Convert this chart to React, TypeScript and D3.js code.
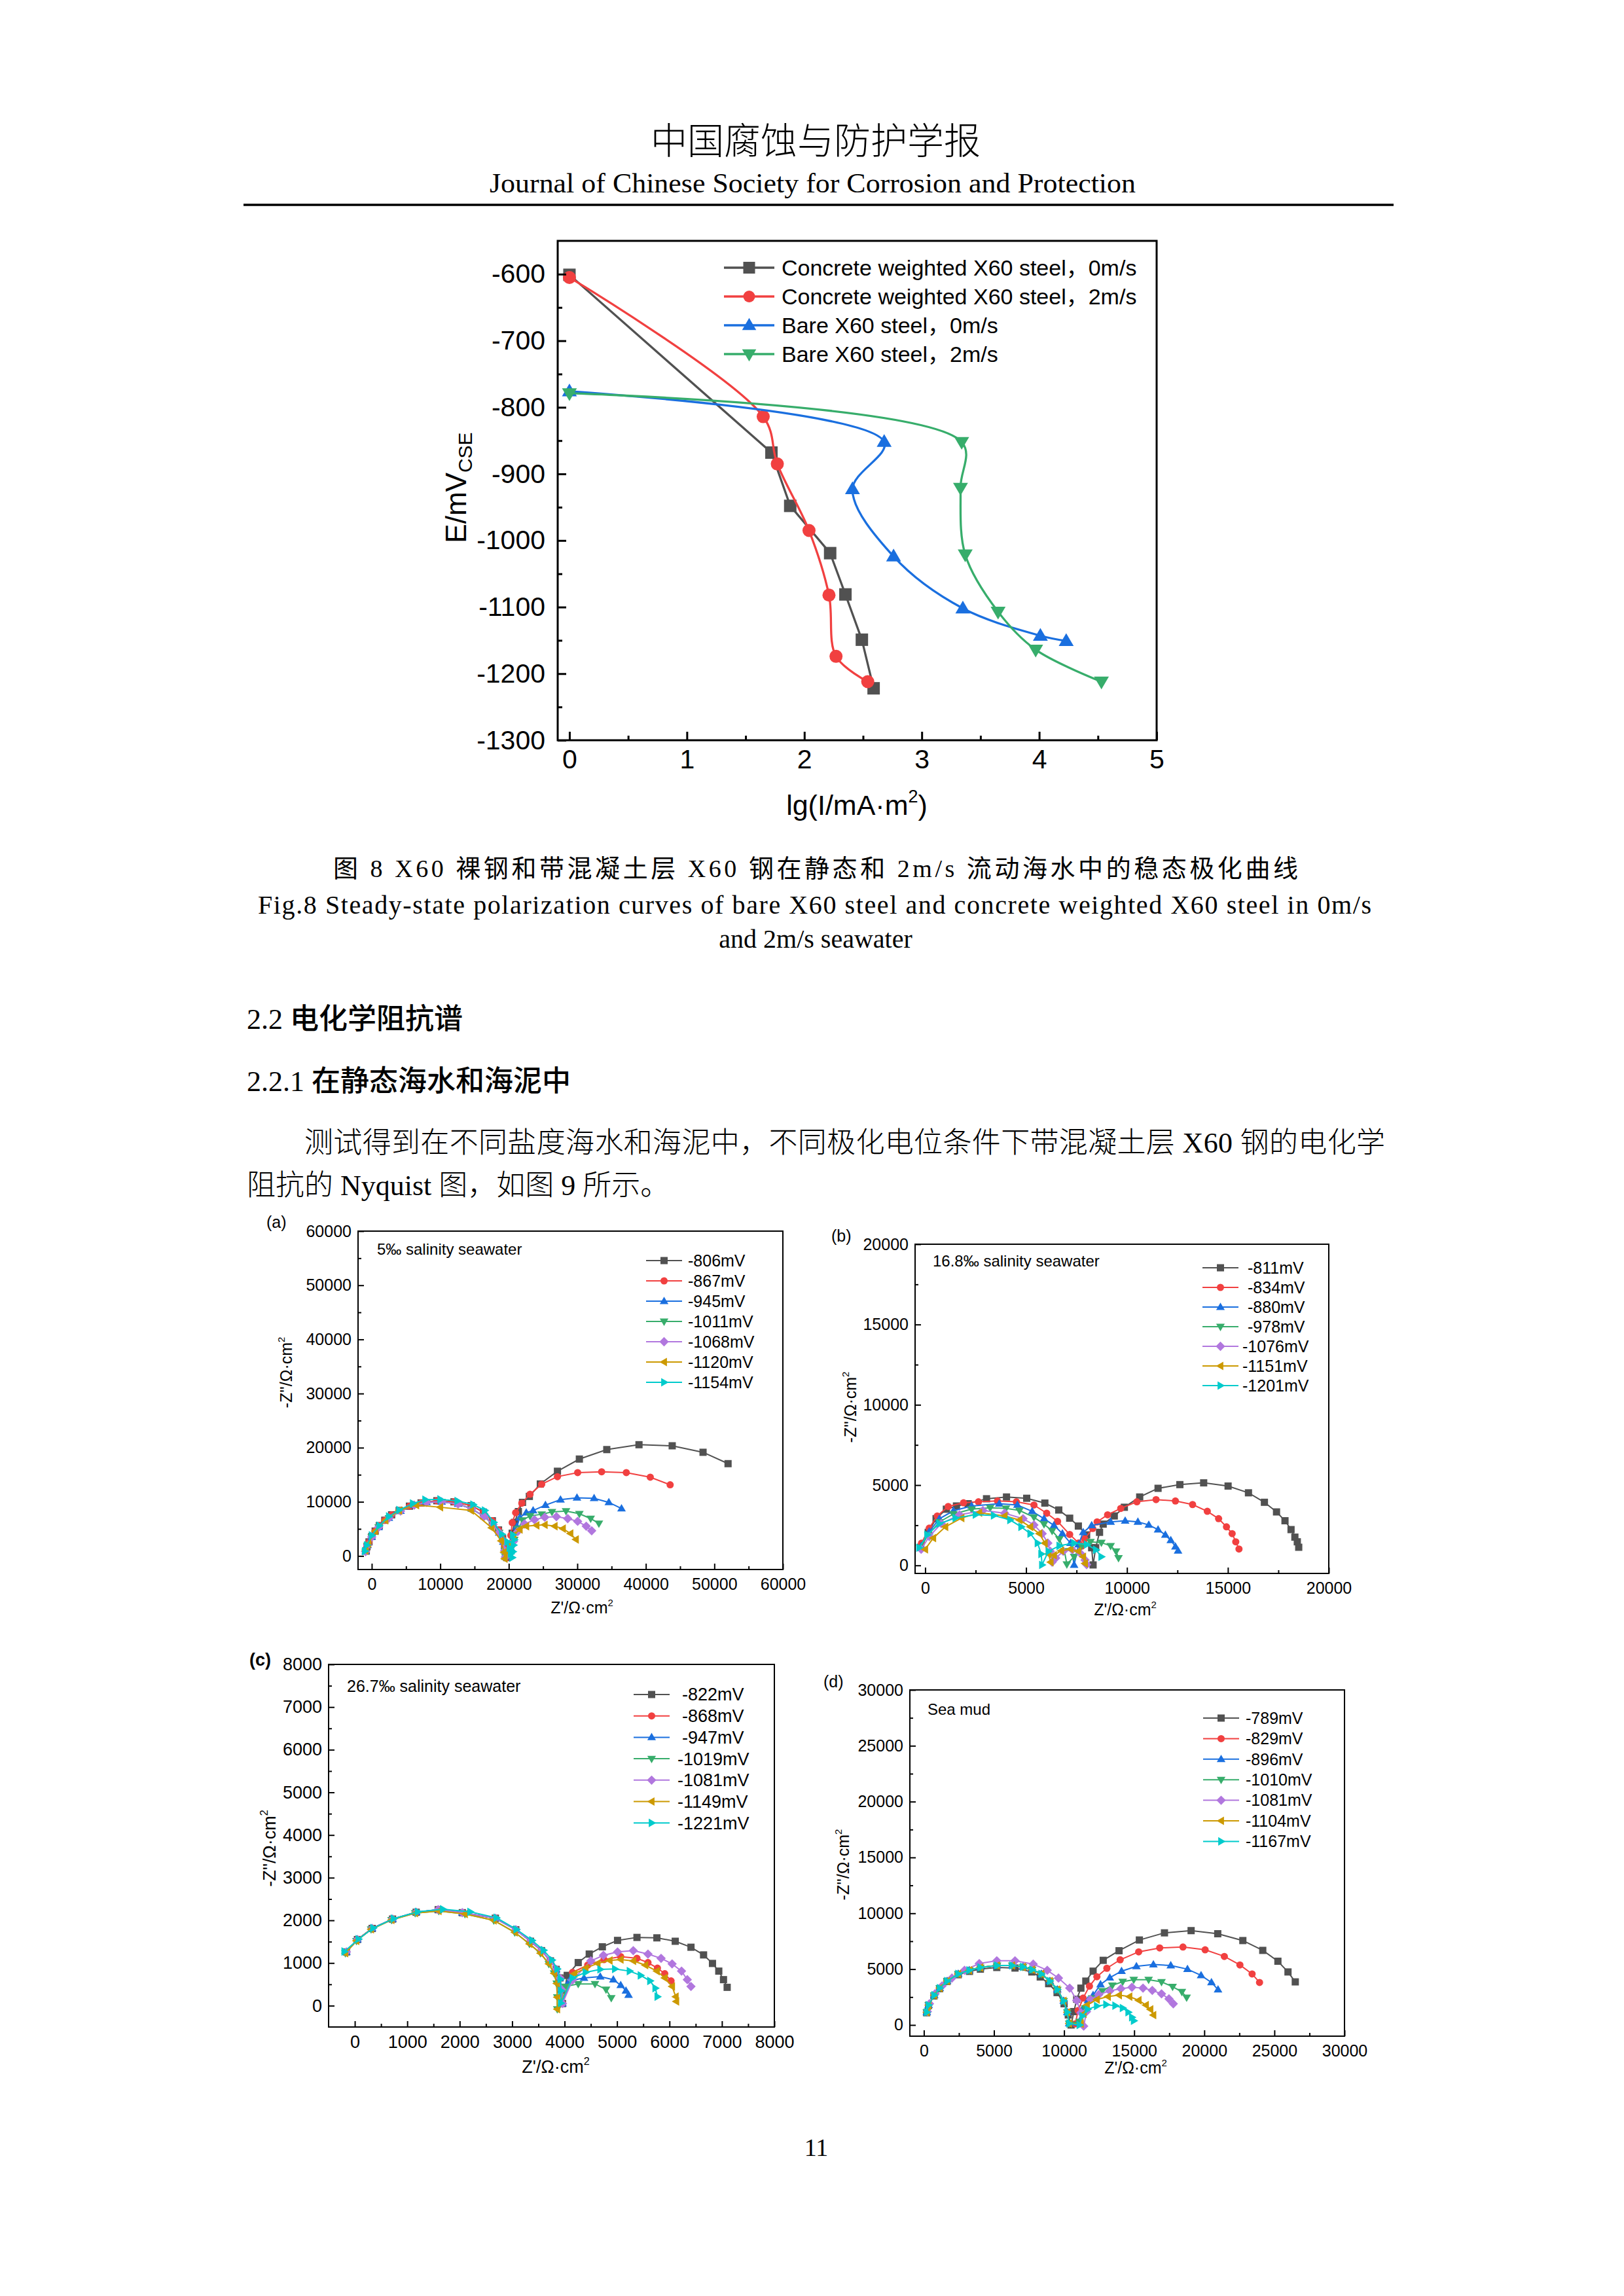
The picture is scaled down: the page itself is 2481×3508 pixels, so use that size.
import React, { useEffect, useRef } from "react";
import * as d3 from "d3";

type Pt = [number, number];

const SANS = "'Liberation Sans', Arial, 'Noto Sans CJK SC', sans-serif";
const SERIF = "'Liberation Serif', 'Times New Roman', 'Noto Sans CJK SC', serif";
const CJK = "'Noto Sans CJK SC', sans-serif";

// Origin "Colorful" palette + symbol order
const palette = ["#515151", "#F14040", "#1A6FDF", "#37AD6B", "#B177DE", "#CC9900", "#00CBCC"];
const shapes = ["square", "circle", "up", "down", "diamond", "left", "right"];

// ---------------- Fig. 8 : polarization curves ----------------
const fig8Names = [
  "Concrete weighted X60 steel，0m/s",
  "Concrete weighted X60 steel，2m/s",
  "Bare X60 steel，0m/s",
  "Bare X60 steel，2m/s",
];
const fig8Concrete0: Pt[] = [[0, -601], [1.72, -868], [1.88, -948], [2.22, -1019], [2.35, -1081], [2.49, -1149], [2.59, -1222]];
const fig8Concrete2: Pt[] = [[0, -605], [1.65, -814], [1.77, -885], [2.04, -985], [2.21, -1082], [2.27, -1174], [2.54, -1212]];
const fig8Bare0: Pt[] = [[0, -776], [2.68, -852], [2.41, -923], [2.76, -1024], [3.35, -1102], [4.01, -1143], [4.23, -1151]];
const fig8Bare2: Pt[] = [[0, -779], [3.34, -852], [3.33, -921], [3.37, -1021], [3.65, -1107], [3.97, -1164], [4.53, -1212]];
const fig8Curved = [false, true, true, true];

// ---------------- Fig. 9(a) 5‰ salinity ----------------
const aNames = ["-806mV", "-867mV", "-945mV", "-1011mV", "-1068mV", "-1120mV", "-1154mV"];
const aArcMain: Pt[] = [[-800, 900], [-700, 1700], [-400, 2600], [0, 3600], [500, 4600], [1100, 5600], [1900, 6600], [2900, 7600], [4000, 8400], [5500, 9200], [7200, 9800], [9500, 10200], [12000, 10000], [14500, 9300], [16300, 8100], [17600, 6500], [18500, 4800], [19100, 3200], [19400, 1800], [19600, 600], [19700, -300]];
const aArcLow: Pt[] = [[-900, 800], [-600, 2000], [0, 3500], [1000, 5300], [2500, 7000], [4200, 8300], [6200, 9400], [8000, 9900], [10200, 10000], [12600, 9600], [14600, 8700], [16400, 7300], [17700, 5800], [18600, 4300], [19200, 2600], [19400, 1000], [19500, -200]];
const aArcGold: Pt[] = [[-900, 1000], [-500, 2300], [500, 4600], [2000, 6600], [4000, 8400], [6500, 9400], [10000, 9000], [14500, 8400], [17500, 5200], [18900, 2800], [19300, 700], [19400, -500]];
const aArcCyan: Pt[] = [[-1000, 900], [-700, 2000], [0, 3800], [1100, 5600], [2500, 7300], [4000, 8500], [6000, 9700], [7800, 10400], [10000, 10450], [12500, 10150], [14800, 9500], [16500, 8400], [17800, 6200], [19000, 4000], [19800, 2600], [20100, 1500], [20300, 400], [20500, -300]];
const a806: Pt[] = [...aArcMain, [20200, 2000], [20500, 4200], [20850, 6200], [21400, 8200], [22000, 9900], [23000, 11000], [24600, 13300], [27100, 15650], [30300, 17900], [34300, 19650], [39000, 20550], [43850, 20350], [48350, 19150], [52000, 17050]];
const a867: Pt[] = [...aArcMain, [20100, 1800], [20300, 3800], [20500, 6150], [21000, 8000], [21900, 9750], [23100, 11400], [24800, 13250], [27100, 14650], [30050, 15400], [33550, 15550], [37150, 15400], [40650, 14550], [43550, 13150]];
const a945: Pt[] = [...aArcLow, [20300, 1500], [20700, 3400], [21200, 5400], [21600, 7100], [22550, 8000], [23550, 8400], [25350, 9400], [27550, 10400], [29950, 10750], [32450, 10650], [34600, 9900], [36450, 8750]];
const a1011: Pt[] = [...aArcLow, [20300, 1200], [20800, 3000], [21400, 5000], [22000, 6600], [23100, 7400], [24800, 7700], [26300, 8150], [28350, 8300], [30300, 7800], [31950, 6900], [33150, 6000]];
const a1068: Pt[] = [...aArcLow, [20200, 1000], [20700, 2700], [21300, 4500], [22300, 5900], [23750, 6700], [25250, 7150], [26950, 7250], [28600, 6900], [30050, 6400], [31300, 5500], [32100, 4650]];
const a1120: Pt[] = [...aArcGold, [19800, 800], [20200, 2200], [20700, 3800], [21600, 4900], [22550, 5500], [24050, 5650], [25250, 5750], [26700, 5500], [27900, 5050], [29000, 4150], [29800, 3050]];
const a1154: Pt[] = [...aArcCyan, [20600, 800], [20700, 2000], [20800, 3000], [20600, 3900]];

// ---------------- Fig. 9(b) 16.8‰ salinity ----------------
const bNames = ["-811mV", "-834mV", "-880mV", "-978mV", "-1076mV", "-1151mV", "-1201mV"];
const b811: Pt[] = [[-220, 1130], [150, 2060], [540, 2910], [1050, 3500], [1550, 3700], [2130, 3840], [3040, 4150], [4030, 4260], [5030, 4180], [5930, 3880], [6620, 3450], [7160, 2940], [7590, 2450], [8000, 1900], [8250, 1100], [8320, 30], [8450, 1100], [8640, 2060], [8820, 2570], [9370, 3080], [9870, 3620], [10630, 4260], [11540, 4800], [12620, 5030], [13800, 5140], [15010, 4940], [16020, 4520], [16810, 3930], [17410, 3330], [17830, 2780], [18130, 2230], [18320, 1760], [18440, 1470], [18510, 1130]];
const b834: Pt[] = [[-180, 1390], [200, 2320], [600, 3080], [1140, 3670], [1900, 3900], [2640, 3960], [3580, 4010], [4520, 3960], [5390, 3760], [6020, 3250], [6560, 2740], [7160, 1930], [7600, 1400], [7750, 1200], [7900, 1650], [8300, 2300], [8520, 2710], [9040, 3150], [9690, 3550], [10490, 3960], [11440, 4100], [12400, 4010], [13250, 3790], [13980, 3370], [14540, 2910], [14930, 2400], [15210, 1980], [15390, 1470], [15550, 1020]];
const b880: Pt[] = [[-200, 1200], [200, 2100], [700, 2900], [1400, 3400], [2300, 3700], [3670, 3840], [4570, 3760], [5300, 3370], [5890, 2910], [6380, 2490], [6800, 1980], [7200, 1390], [7380, 30], [7600, 1300], [7830, 2060], [8250, 2490], [9190, 2710], [9910, 2780], [10540, 2710], [11080, 2520], [11540, 2230], [11900, 1900], [12170, 1560], [12400, 1170], [12530, 910]];
const b978: Pt[] = [[-250, 1100], [150, 1900], [700, 2700], [1400, 3200], [2300, 3500], [3220, 3590], [4000, 3550], [4670, 3420], [5390, 3000], [5890, 2570], [6290, 2150], [6650, 1640], [6900, 900], [7020, 70], [7380, 540], [7740, 1220], [8190, 1470], [8730, 1420], [9190, 1220], [9460, 880], [9580, 460]];
const b1076: Pt[] = [[-200, 1000], [200, 1800], [800, 2600], [1700, 3150], [2860, 3420], [3940, 3250], [4850, 2910], [5390, 2520], [5800, 1980], [6080, 1390], [6200, 880], [6290, 200], [6470, 460], [6840, 880], [7290, 970], [7700, 740], [7920, 340], [8000, 50]];
const b1151: Pt[] = [[0, 1000], [400, 1700], [1000, 2400], [1800, 2950], [2680, 3280], [3940, 3080], [4670, 2830], [5210, 2400], [5660, 1980], [5930, 1390], [6110, 710], [6220, 200], [6380, 630], [6740, 910], [7200, 1020], [7590, 880], [7830, 540], [7920, 120]];
const b1201: Pt[] = [[-300, 1100], [100, 1900], [700, 2600], [1500, 2950], [2500, 3160], [3400, 3110], [4210, 2830], [4760, 2400], [5210, 1980], [5570, 1390], [5750, 710], [5790, 30], [6110, 880], [6650, 1220], [7380, 1390], [8010, 1300], [8460, 970], [8730, 540]];

// ---------------- Fig. 9(c) 26.7‰ salinity ----------------
const cNames = ["-822mV", "-868mV", "-947mV", "-1019mV", "-1081mV", "-1149mV", "-1221mV"];
const cArcMain: Pt[] = [[-160, 1260], [50, 1550], [330, 1810], [720, 2030], [1170, 2190], [1590, 2250], [2050, 2180], [2680, 2050], [3070, 1780], [3350, 1510], [3560, 1290], [3730, 1050], [3840, 850], [3910, 650], [3940, 380], [3960, 50]];
const cArcLow: Pt[] = [[-180, 1230], [30, 1520], [310, 1790], [700, 2010], [1150, 2170], [1600, 2220], [2100, 2150], [2650, 2000], [3050, 1720], [3330, 1450], [3540, 1230], [3700, 980], [3800, 760], [3850, 520], [3860, 200], [3860, -80]];
const cArcCyan: Pt[] = [[-200, 1270], [70, 1560], [350, 1820], [740, 2040], [1200, 2200], [1680, 2260], [2200, 2200], [2700, 2060], [3080, 1790], [3380, 1530], [3600, 1300], [3760, 1070], [3860, 860], [3920, 620], [3930, 350], [3930, 60]];
const c822: Pt[] = [...cArcMain, [4050, 710], [4260, 1010], [4470, 1210], [4720, 1380], [5010, 1530], [5380, 1600], [5760, 1590], [6110, 1510], [6410, 1370], [6650, 1190], [6820, 990], [6940, 810], [7030, 610], [7100, 430]];
const c868: Pt[] = [...cArcMain, [4150, 780], [4440, 950], [4750, 1080], [5070, 1150], [5380, 1110], [5590, 1010], [5770, 880], [5910, 750], [6030, 580]];
const c947: Pt[] = [...cArcMain, [4090, 580], [4370, 650], [4680, 680], [4930, 610], [5070, 480], [5170, 350], [5220, 250]];
const c1019: Pt[] = [...cArcLow, [4010, 450], [4260, 510], [4580, 510], [4790, 380], [4890, 180]];
const c1081: Pt[] = [...cArcMain, [4150, 600], [4500, 1050], [4740, 1180], [5010, 1260], [5310, 1290], [5590, 1210], [5840, 1110], [6050, 980], [6230, 810], [6340, 610], [6410, 450]];
const c1149: Pt[] = [...cArcLow, [4190, 750], [4400, 880], [4630, 990], [4860, 1060], [5070, 1080], [5310, 1050], [5540, 950], [5760, 810], [5910, 650], [6050, 450], [6120, 210], [6130, 100]];
const c1221: Pt[] = [...cArcCyan, [4150, 650], [4400, 780], [4680, 850], [4960, 860], [5240, 810], [5450, 710], [5630, 580], [5730, 410], [5770, 210]];

// ---------------- Fig. 9(d) sea mud ----------------
const dNames = ["-789mV", "-829mV", "-896mV", "-1010mV", "-1081mV", "-1104mV", "-1167mV"];
const dArcMain: Pt[] = [[210, 1140], [340, 1780], [740, 2670], [1130, 3300], [1660, 3930], [2450, 4570], [3240, 4900], [4030, 5150], [5220, 5330], [6300, 5330], [7070, 5200], [7720, 4950], [8380, 4570], [8990, 3930], [9520, 3170], [9970, 2160], [10230, 1140], [10360, 130]];
const dArcLow: Pt[] = [[200, 1100], [330, 1750], [720, 2600], [1120, 3250], [1650, 3900], [2450, 4500], [3250, 4800], [4030, 5000], [5200, 5150], [6500, 5100], [7700, 4750], [8300, 4300], [8900, 3700], [9500, 2900], [10000, 1900], [10300, 900], [10500, 0]];
const dArcHigh: Pt[] = [[250, 1200], [400, 1900], [800, 2800], [1300, 3500], [2000, 4200], [2900, 4900], [3950, 5500], [5200, 5750], [6500, 5750], [7800, 5450], [8800, 4900], [9600, 4200], [10400, 3300], [10900, 2200], [11200, 1100], [11400, -100]];
const d789: Pt[] = [...dArcLow, [10700, 1200], [10900, 2300], [11200, 3300], [11550, 3930], [12070, 4820], [12790, 5790], [13920, 6650], [15370, 7610], [17160, 8250], [19060, 8450], [20960, 8170], [22750, 7560], [24170, 6680], [25250, 5710], [25970, 4750], [26490, 3860]];
const d829: Pt[] = [...dArcMain, [10800, 100], [11000, 1300], [11360, 2410], [11810, 3480], [12340, 4320], [13050, 5080], [14000, 5840], [15320, 6550], [16820, 6900], [18480, 6980], [20060, 6730], [21430, 6140], [22540, 5380], [23410, 4570], [23940, 3810]];
const d896: Pt[] = [...dArcMain, [11000, 200], [11300, 1400], [11700, 2200], [12070, 2670], [12600, 3630], [13260, 4240], [14100, 4820], [15160, 5250], [16370, 5410], [17610, 5330], [18800, 5000], [19770, 4440], [20510, 3810], [20980, 3170]];
const d1010: Pt[] = [...dArcMain, [11100, 300], [11500, 1500], [12000, 2400], [12730, 3050], [13440, 3550], [14180, 3880], [14970, 4060], [16030, 4060], [16950, 3860], [17740, 3430], [18400, 2970], [18740, 2460]];
const d1081: Pt[] = [...dArcHigh, [11600, 1200], [11890, 2280], [12470, 2720], [13260, 3050], [14050, 3250], [14840, 3380], [15630, 3300], [16290, 3100], [16950, 2790], [17480, 2340], [17790, 1900]];
const d1104: Pt[] = [...dArcMain, [11200, 100], [11400, 1000], [11630, 1780], [12340, 2280], [13130, 2540], [13920, 2670], [14660, 2540], [15320, 2210], [15840, 1780], [16160, 1400], [16370, 890]];
const d1167: Pt[] = [...dArcMain, [11100, 0], [11300, 800], [11680, 1400], [12340, 1700], [13000, 1830], [13650, 1730], [14180, 1520], [14580, 1140], [14840, 690], [14970, 380]];

interface Panel {
  tag: string;
  tagBold: boolean;
  title: string;
  names: string[];
  series: Pt[][];
  box: [number, number, number, number];
  xDomain: [number, number];
  yDomain: [number, number];
  major: number;
  font: number;
  titleFont: number;
  tagPos: [number, number];
  titlePos: [number, number];
  legend: [number, number, number, number]; // sample x, first row y, row step, text x
  shortShift: number;
  yLab: [number, number];
  xLab: [number, number];
}

const panels: Panel[] = [
  {
    tag: "(a)", tagBold: false, title: "5‰ salinity seawater", names: aNames,
    series: [a806, a867, a945, a1011, a1068, a1120, a1154],
    box: [547, 1881, 1196, 2398], xDomain: [-2000, 60000], yDomain: [-2500, 60000], major: 10000,
    font: 25, titleFont: 24, tagPos: [407, 1876], titlePos: [576, 1917],
    legend: [987, 1926, 31, 1051], shortShift: 0, yLab: [437, 2097], xLab: [889, 2465],
  },
  {
    tag: "(b)", tagBold: false, title: "16.8‰ salinity seawater", names: bNames,
    series: [b811, b834, b880, b978, b1076, b1151, b1201],
    box: [1398, 1901, 2030, 2404], xDomain: [-500, 20000], yDomain: [-500, 20000], major: 5000,
    font: 25, titleFont: 24, tagPos: [1270, 1897], titlePos: [1425, 1935],
    legend: [1837, 1937, 30, 1898], shortShift: 8, yLab: [1299, 2150], xLab: [1719, 2468],
  },
  {
    tag: "(c)", tagBold: true, title: "26.7‰ salinity seawater", names: cNames,
    series: [c822, c868, c947, c1019, c1081, c1149, c1221],
    box: [502, 2543, 1183, 3097], xDomain: [-500, 8000], yDomain: [-500, 8000], major: 1000,
    font: 27, titleFont: 25, tagPos: [381, 2545], titlePos: [530, 2585],
    legend: [968, 2589, 32.7, 1035], shortShift: 7, yLab: [412, 2824], xLab: [849, 3167],
  },
  {
    tag: "(d)", tagBold: false, title: "Sea mud", names: dNames,
    series: [d789, d829, d896, d1010, d1081, d1104, d1167],
    box: [1390, 2582, 2054, 3111], xDomain: [-1000, 30000], yDomain: [-1000, 30000], major: 5000,
    font: 25, titleFont: 24, tagPos: [1258, 2578], titlePos: [1417, 2620],
    legend: [1838, 2625, 31.4, 1903], shortShift: 0, yLab: [1288, 2849], xLab: [1735, 3168],
  },
];

function markerPath(kind: string, r: number): string {
  switch (kind) {
    case "square": return `M${-r},${-r}H${r}V${r}H${-r}Z`;
    case "circle": return `M${r},0A${r},${r} 0 1,1 ${-r},0A${r},${r} 0 1,1 ${r},0Z`;
    case "up": return `M0,${-1.25 * r}L${1.2 * r},${0.8 * r}L${-1.2 * r},${0.8 * r}Z`;
    case "down": return `M0,${1.25 * r}L${1.2 * r},${-0.8 * r}L${-1.2 * r},${-0.8 * r}Z`;
    case "diamond": return `M0,${-1.3 * r}L${1.3 * r},0L0,${1.3 * r}L${-1.3 * r},0Z`;
    case "left": return `M${-1.25 * r},0L${0.8 * r},${-1.2 * r}L${0.8 * r},${1.2 * r}Z`;
    default: return `M${1.25 * r},0L${-0.8 * r},${-1.2 * r}L${-0.8 * r},${1.2 * r}Z`;
  }
}

function ticksIn(lo: number, hi: number, step: number): number[] {
  const out: number[] = [];
  for (let v = Math.ceil(lo / step - 1e-9) * step; v <= hi + 1e-9; v += step) out.push(+v.toFixed(6));
  return out;
}

type Sel = d3.Selection<SVGGElement, unknown, null, undefined>;

function drawAxes(
  g: Sel, x: d3.ScaleLinear<number, number>, y: d3.ScaleLinear<number, number>,
  box: [number, number, number, number], xMajor: number, yMajor: number, font: number,
  majorLen: number, minorLen: number, padX: number, padY: number, stroke: number,
  keepNegY: boolean,
) {
  const [l, t, r, b] = box;
  const [x0, x1] = x.domain();
  const [y0, y1] = y.domain();
  const xMaj = ticksIn(x0, x1, xMajor).filter(v => v >= 0);
  const yMaj = ticksIn(y0, y1, yMajor).filter(v => keepNegY || v >= 0);
  const xMin = ticksIn(x0, x1, xMajor / 2).filter(v => !xMaj.includes(v) && x(v) > l + 1 && x(v) < r - 1);
  const yMin = ticksIn(y0, y1, yMajor / 2).filter(v => !yMaj.includes(v) && y(v) > t + 1 && y(v) < b - 1);

  const style = (a: Sel) => {
    a.attr("font-family", SANS).attr("font-size", font);
    a.select(".domain").remove();
    a.selectAll("line").attr("stroke", "#000").attr("stroke-width", stroke);
    a.selectAll("text").attr("fill", "#000");
  };
  const fmt = (d: d3.NumberValue) => String(+d);

  const xa = g.append("g").attr("transform", `translate(0,${b})`)
    .call(d3.axisBottom(x).tickValues(xMaj).tickSize(-majorLen).tickPadding(padX).tickFormat(fmt));
  style(xa);
  const xm = g.append("g").attr("transform", `translate(0,${b})`)
    .call(d3.axisBottom(x).tickValues(xMin).tickSize(-minorLen).tickFormat(() => ""));
  style(xm);
  const ya = g.append("g").attr("transform", `translate(${l},0)`)
    .call(d3.axisLeft(y).tickValues(yMaj).tickSize(-majorLen).tickPadding(padY).tickFormat(fmt));
  style(ya);
  const ym = g.append("g").attr("transform", `translate(${l},0)`)
    .call(d3.axisLeft(y).tickValues(yMin).tickSize(-minorLen).tickFormat(() => ""));
  style(ym);

  g.append("rect").attr("x", l).attr("y", t).attr("width", r - l).attr("height", b - t)
    .attr("fill", "none").attr("stroke", "#000").attr("stroke-width", stroke);
}

function drawPanel(svg: d3.Selection<SVGSVGElement, unknown, null, undefined>, p: Panel) {
  const [l, t, r, b] = p.box;
  const g = svg.append("g") as Sel;
  const x = d3.scaleLinear().domain(p.xDomain).range([l, r]);
  const y = d3.scaleLinear().domain(p.yDomain).range([b, t]);

  const clipId = `clip${p.tag.replace(/\W/g, "")}`;
  g.append("clipPath").attr("id", clipId).append("rect")
    .attr("x", l).attr("y", t).attr("width", r - l).attr("height", b - t);
  const plot = g.append("g").attr("clip-path", `url(#${clipId})`);
  const line = d3.line<Pt>().x(d => x(d[0])).y(d => y(d[1]));

  p.series.forEach((s, i) => {
    plot.append("path").attr("d", line(s)).attr("fill", "none")
      .attr("stroke", palette[i]).attr("stroke-width", 2);
    plot.selectAll(null).data(s).join("path")
      .attr("d", markerPath(shapes[i], 5.5))
      .attr("transform", d => `translate(${x(d[0])},${y(d[1])})`)
      .attr("fill", palette[i]);
  });

  drawAxes(g, x, y, p.box, p.major, p.major, p.font, 9, 5, 13, 10, 2, false);

  // tag, title
  g.append("text").attr("x", p.tagPos[0]).attr("y", p.tagPos[1]).attr("font-family", SANS)
    .attr("font-size", p.font).attr("font-weight", p.tagBold ? 700 : 400).text(p.tag);
  g.append("text").attr("x", p.titlePos[0]).attr("y", p.titlePos[1]).attr("font-family", SANS)
    .attr("font-size", p.titleFont).text(p.title);

  // legend
  const [lx, ly, ldy, tx] = p.legend;
  p.names.forEach((n, i) => {
    const cy = ly + i * ldy;
    g.append("line").attr("x1", lx).attr("x2", lx + 55).attr("y1", cy).attr("y2", cy)
      .attr("stroke", palette[i]).attr("stroke-width", 2);
    g.append("path").attr("d", markerPath(shapes[i], 5.5))
      .attr("transform", `translate(${lx + 27.5},${cy})`).attr("fill", palette[i]);
    g.append("text").attr("x", tx + (n.length < 7 ? p.shortShift : 0)).attr("y", cy)
      .attr("dy", "0.35em").attr("font-family", SANS).attr("font-size", p.font).text(n);
  });

  // axis labels
  const yl = g.append("text").attr("transform", `translate(${p.yLab[0]},${p.yLab[1]}) rotate(-90)`)
    .attr("text-anchor", "middle").attr("dy", "0.35em").attr("font-family", SANS).attr("font-size", p.font);
  yl.append("tspan").text("-Z''/Ω·cm");
  yl.append("tspan").attr("font-size", p.font * 0.6).attr("dy", -p.font * 0.45).text("2");
  const xl = g.append("text").attr("x", p.xLab[0]).attr("y", p.xLab[1])
    .attr("text-anchor", "middle").attr("font-family", SANS).attr("font-size", p.font);
  xl.append("tspan").text("Z'/Ω·cm");
  xl.append("tspan").attr("font-size", p.font * 0.6).attr("dy", -p.font * 0.45).text("2");
}

function drawFig8(svg: d3.Selection<SVGSVGElement, unknown, null, undefined>) {
  const box: [number, number, number, number] = [852, 368, 1767, 1131];
  const [l, t, r, b] = box;
  const g = svg.append("g") as Sel;
  const x = d3.scaleLinear().domain([-0.1, 5]).range([l, r]);
  const y = d3.scaleLinear().domain([-1300, -550]).range([b, t]);
  const data = [fig8Concrete0, fig8Concrete2, fig8Bare0, fig8Bare2];

  data.forEach((s, i) => {
    const ln = d3.line<Pt>().x(d => x(d[0])).y(d => y(d[1]))
      .curve(fig8Curved[i] ? d3.curveCatmullRom.alpha(0.5) : d3.curveLinear);
    g.append("path").attr("d", ln(s)).attr("fill", "none")
      .attr("stroke", palette[i]).attr("stroke-width", 3.3);
    g.selectAll(null).data(s).join("path")
      .attr("d", markerPath(shapes[i], i === 1 ? 10 : 9.5))
      .attr("transform", d => `translate(${x(d[0])},${y(d[1])})`)
      .attr("fill", palette[i]);
  });

  drawAxes(g, x, y, box, 1, 100, 41, 13, 7, 14, 19, 3, true);

  // legend
  fig8Names.forEach((n, i) => {
    const cy = [409, 453, 497, 541][i];
    g.append("line").attr("x1", 1106).attr("x2", 1183).attr("y1", cy).attr("y2", cy)
      .attr("stroke", palette[i]).attr("stroke-width", 3.3);
    g.append("path").attr("d", markerPath(shapes[i], 9))
      .attr("transform", `translate(1144.5,${cy})`).attr("fill", palette[i]);
    g.append("text").attr("x", 1194).attr("y", cy).attr("dy", "0.36em")
      .attr("font-family", SANS).attr("font-size", 34).text(n);
  });

  const yl = g.append("text").attr("transform", `translate(697,745) rotate(-90)`)
    .attr("text-anchor", "middle").attr("dy", "0.35em").attr("font-family", SANS).attr("font-size", 44);
  yl.append("tspan").text("E/mV");
  yl.append("tspan").attr("font-size", 30).attr("dy", 9).text("CSE");
  const xl = g.append("text").attr("x", 1309).attr("y", 1245)
    .attr("text-anchor", "middle").attr("font-family", SANS).attr("font-size", 43);
  xl.append("tspan").text("lg(I/mA·m");
  xl.append("tspan").attr("font-size", 27).attr("dy", -19).text("2");
  xl.append("tspan").attr("dy", 19).text(")");
}

const App: React.FC = () => {
  const svgRef = useRef<SVGSVGElement | null>(null);

  useEffect(() => {
    const svg = d3.select(svgRef.current) as d3.Selection<SVGSVGElement, unknown, null, undefined>;
    svg.selectAll("*").remove();
    svg.append("rect").attr("width", 2481).attr("height", 3508).attr("fill", "#fff");

    // running header
    svg.append("text").attr("x", 1246).attr("y", 235).attr("text-anchor", "middle")
      .attr("font-family", CJK).attr("font-size", 56).attr("font-weight", 300).text("中国腐蚀与防护学报");
    svg.append("text").attr("x", 748).attr("y", 294).attr("textLength", 987)
      .attr("lengthAdjust", "spacingAndGlyphs").attr("font-family", SERIF).attr("font-size", 42)
      .text("Journal of Chinese Society for Corrosion and Protection");
    svg.append("line").attr("x1", 372).attr("x2", 2129).attr("y1", 313).attr("y2", 313)
      .attr("stroke", "#000").attr("stroke-width", 3.5);

    drawFig8(svg);

    // captions and body text
    svg.append("text").attr("x", 509).attr("y", 1340).attr("textLength", 1474)
      .attr("lengthAdjust", "spacing").attr("font-family", SERIF).attr("font-size", 38)
      .text("图 8 X60 裸钢和带混凝土层 X60 钢在静态和 2m/s 流动海水中的稳态极化曲线");
    svg.append("text").attr("x", 394).attr("y", 1396).attr("textLength", 1701)
      .attr("lengthAdjust", "spacing").attr("font-family", SERIF).attr("font-size", 40)
      .text("Fig.8 Steady-state polarization curves of bare X60 steel and concrete weighted X60 steel in 0m/s");
    svg.append("text").attr("x", 1246).attr("y", 1448).attr("text-anchor", "middle")
      .attr("font-family", SERIF).attr("font-size", 40).text("and 2m/s seawater");

    const h1 = svg.append("text").attr("x", 377).attr("y", 1572).attr("font-size", 44);
    h1.append("tspan").attr("font-family", SERIF).text("2.2  ");
    h1.append("tspan").attr("font-family", CJK).attr("font-weight", 500).text("电化学阻抗谱");
    const h2 = svg.append("text").attr("x", 377).attr("y", 1667).attr("font-size", 44);
    h2.append("tspan").attr("font-family", SERIF).text("2.2.1  ");
    h2.append("tspan").attr("font-family", CJK).attr("font-weight", 500).text("在静态海水和海泥中");

    svg.append("text").attr("x", 465).attr("y", 1761).attr("textLength", 1651)
      .attr("lengthAdjust", "spacing").attr("font-family", SERIF).attr("font-size", 44)
      .attr("font-weight", 300)
      .text("测试得到在不同盐度海水和海泥中，不同极化电位条件下带混凝土层 X60 钢的电化学");
    svg.append("text").attr("x", 377).attr("y", 1826).attr("font-family", SERIF)
      .attr("font-size", 44).attr("font-weight", 300).text("阻抗的 Nyquist 图，如图 9 所示。");

    panels.forEach(p => drawPanel(svg, p));

    svg.append("text").attr("x", 1247).attr("y", 3294).attr("text-anchor", "middle")
      .attr("font-family", SERIF).attr("font-size", 38).text("11");
  }, []);

  return (
    <svg
      ref={svgRef}
      width={2481}
      height={3508}
      style={{ position: "absolute", left: 0, top: 0, background: "#fff" }}
    />
  );
};

export default App;
